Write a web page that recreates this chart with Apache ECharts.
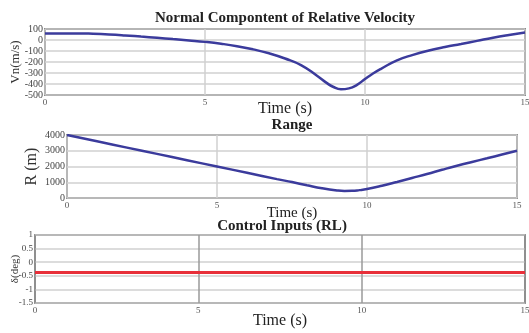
<!DOCTYPE html>
<html>
<head>
<meta charset="utf-8">
<script src="https://cdn.jsdelivr.net/npm/echarts@6/dist/echarts.min.js"></script>
<style>
  html, body { margin: 0; padding: 0; background: #fff; }
  #chart { width: 529px; height: 333px; }
</style>
</head>
<body>
<div id="chart"></div>
<script>
// time ticks shared by all panels
var timeTicks = [0, 5, 10, 15];

// normal component of relative velocity (m/s)
var vnTime = [0, 0.5, 1, 1.5, 2, 2.5, 3, 3.5, 4, 4.5, 5, 5.5, 6, 6.5, 7, 7.5, 8, 8.5, 8.8, 9, 9.25, 9.5, 9.75, 10, 10.25, 10.5, 11, 11.5, 12, 12.5, 13, 13.5, 14, 14.5, 15];
var vnValue = [58, 60, 60, 57, 51, 42, 31, 20, 8, -4, -17, -34, -56, -85, -121, -168, -228, -325, -390, -425, -448, -440, -408, -355, -305, -262, -185, -135, -95, -63, -36, -8, 20, 45, 68];

// range (m)
var rTime = [0, 1, 2, 3, 4, 5, 6, 7, 7.5, 8, 8.5, 9, 9.25, 9.5, 9.75, 10, 10.5, 11, 11.5, 12, 12.5, 13, 13.5, 14, 14.5, 15];
var rValue = [4000, 3600, 3200, 2800, 2400, 2000, 1600, 1200, 1010, 810, 620, 480, 448, 455, 500, 570, 780, 1020, 1270, 1520, 1790, 2050, 2290, 2520, 2760, 3000];

// control input delta (deg)
var ctrlTime = [0, 15];
var ctrlValue = [-0.38, -0.38];

function pairs(xs, ys) {
  return xs.map(function (x, i) { return [x, ys[i]]; });
}

var serif = "'Liberation Serif', 'DejaVu Serif', serif";

function xAxisFor(idx, vGrid, nameGap, nameSize) {
  return {
    type: "value",
    gridIndex: idx,
    min: 0,
    max: 15,
    interval: 5,
    name: "Time (s)",
    nameLocation: "middle",
    nameGap: nameGap,
    nameMoveOverlap: false,
    nameTextStyle: { fontFamily: serif, fontSize: nameSize, color: "#222" },
    axisLine: { show: false },
    axisTick: { show: false },
    axisLabel: { fontFamily: serif, fontSize: 9, color: "#555", margin: 3 },
    splitLine: { show: true, lineStyle: { color: vGrid, width: 1.5 } },
  };
}

function yAxisFor(idx, min, max, interval, name, nameSize, nameGap, labelSize) {
  return {
    type: "value",
    gridIndex: idx,
    min: min,
    max: max,
    interval: interval,
    name: name,
    nameLocation: "middle",
    nameGap: nameGap,
    nameMoveOverlap: false,
    nameTextStyle: { fontFamily: serif, fontSize: nameSize, color: "#333" },
    axisLine: { show: false },
    axisTick: { show: false },
    axisLabel: {
      fontFamily: serif, fontSize: labelSize, color: "#444", margin: 2,
      formatter: function (v) { return String(v); },
    },
    splitLine: { show: true, lineStyle: { color: "#d0d0d0", width: 1.5 } },
  };
}

var titleStyle = { fontFamily: serif, fontSize: 15, fontWeight: "bold", color: "#222" };

var option = {
  animation: false,
  backgroundColor: "#fff",
  title: [
    { text: "Normal Compontent of Relative Velocity", left: 285, top: 11, textAlign: "center", padding: 0, textStyle: titleStyle },
    { text: "Range", left: 292, top: 118, textAlign: "center", padding: 0, textStyle: titleStyle },
    { text: "Control Inputs (RL)", left: 282, top: 219, textAlign: "center", padding: 0, textStyle: titleStyle },
  ],
  grid: [
    { left: 45, right: 4, top: 29, height: 66, show: true, borderColor: "#333", borderWidth: 1.5, outerBoundsMode: "none" },
    { left: 67, right: 12, top: 135, height: 63, show: true, borderColor: "#444", borderWidth: 1.5, outerBoundsMode: "none" },
    { left: 35, right: 4, top: 235, height: 68, show: true, borderColor: "#444", borderWidth: 1.5, outerBoundsMode: "none" },
  ],
  xAxis: [
    xAxisFor(0, "#d0d0d0", 6, 16),
    xAxisFor(1, "#d0d0d0", 8, 15),
    xAxisFor(2, "#9a9a9a", 10, 16),
  ],
  yAxis: [
    yAxisFor(0, -500, 100, 100, "Vn(m/s)", 13, 23, 10),
    yAxisFor(1, 0, 4000, 1000, "R (m)", 16, 27, 10),
    yAxisFor(2, -1.5, 1, 0.5, "\u03b4(deg)", 11, 14, 9),
  ],
  series: [
    {
      type: "line", xAxisIndex: 0, yAxisIndex: 0, smooth: true, showSymbol: false,
      data: pairs(vnTime, vnValue),
      lineStyle: { color: "#3b3b9c", width: 2.5 },
    },
    {
      type: "line", xAxisIndex: 1, yAxisIndex: 1, smooth: true, showSymbol: false,
      data: pairs(rTime, rValue),
      lineStyle: { color: "#3b3b9c", width: 2.5 },
    },
    {
      type: "line", xAxisIndex: 2, yAxisIndex: 2, showSymbol: false,
      data: pairs(ctrlTime, ctrlValue),
      lineStyle: { color: "#e8303a", width: 3 },
    },
  ],
};

var myChart = echarts.init(document.getElementById("chart"));
myChart.setOption(option);
</script>
</body>
</html>
